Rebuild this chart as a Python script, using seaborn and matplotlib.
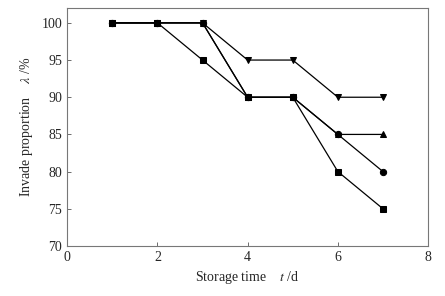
import pandas as pd
import matplotlib
matplotlib.use('Agg')
import matplotlib.pyplot as plt
import seaborn as sns

# Data
days = [1, 2, 3, 4, 5, 6, 7]
square_vals = [100, 100, 95, 90, 90, 80, 75]
triangle_up_vals = [100, 100, 100, 90, 90, 85, 85]
circle_vals = [100, 100, 100, 90, 90, 85, 80]
triangle_down_vals = [100, 100, 100, 95, 95, 90, 90]

series_names = ['A', 'B', 'C', 'D']
series_vals = [square_vals, triangle_up_vals, circle_vals, triangle_down_vals]
series_markers = ['s', '^', 'o', 'v']

rows = []
for name, vals in zip(series_names, series_vals):
    for d, v in zip(days, vals):
        rows.append({'day': d, 'value': v, 'group': name})
df = pd.DataFrame(rows)

sns.set_style('ticks')
plt.rcParams['font.family'] = ['Liberation Serif', 'DejaVu Serif']
plt.rcParams['mathtext.fontset'] = 'stix'

fig = plt.figure(figsize=(4.45, 2.96), dpi=100)
ax = fig.add_axes([0.151, 0.169, 0.811, 0.804])

sns.lineplot(data=df, x='day', y='value', hue='group', style='group',
             palette=['black'] * 4, markers=dict(zip(series_names, series_markers)),
             dashes=False, markersize=4.5, linewidth=0.9, markeredgecolor='black',
             legend=False, ax=ax)

ax.set_xlim(0, 8)
ax.set_ylim(70, 102)
ax.set_xticks([0, 2, 4, 6, 8])
ax.set_yticks([70, 75, 80, 85, 90, 95, 100])
ax.tick_params(direction='in', length=3, width=0.6, labelsize=10, color='#555555')
for sp in ax.spines.values():
    sp.set_color('#777777')
    sp.set_linewidth(0.8)

ax.set_xlabel('Storage time    $t$ /d', fontsize=10, labelpad=4)
ax.set_ylabel('Invade proportion    $\\lambda$ /%', fontsize=10, labelpad=5)

fig.savefig('out.png', dpi=100)
